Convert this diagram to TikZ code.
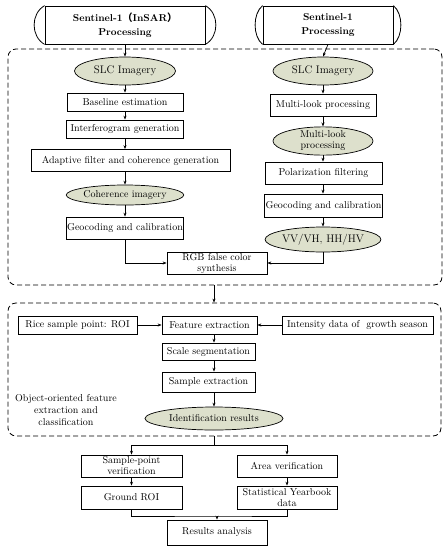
\documentclass[tikz,border=0pt]{standalone}
\usepackage{fontspec}
\newfontfamily\cjk{Noto Sans CJK SC}
\usetikzlibrary{arrows.meta,shapes.geometric,calc}
\definecolor{ellfill}{RGB}{221,224,204}
\begin{document}
\begin{tikzpicture}[x=1pt,y=-1pt,
  every node/.style={font=\fontsize{10}{11}\selectfont},
  box/.style={draw, rectangle, inner sep=1pt, align=center, line width=0.7pt},
  ell/.style={draw, ellipse, fill=ellfill, inner sep=0pt, align=center, line width=0.7pt},
  big/.style={font=\fontsize{11}{12}\selectfont},
  arr/.style={-{Stealth[length=4pt,width=3pt]}, line width=0.7pt},
  ln/.style={line width=0.7pt},
  grp/.style={draw, rectangle, dash pattern=on 5pt off 3pt, rounded corners=8pt, line width=0.8pt},
  hdr/.style={draw, rectangle, align=center, line width=0.8pt, font=\bfseries\fontsize{10}{14}\selectfont},
  lbl/.style={align=center, inner sep=0pt, font=\fontsize{10}{12}\selectfont}
]
\useasboundingbox (0,0) rectangle (448,550);

% group boxes
\node[grp, minimum width=434pt, minimum height=236pt] (box1) at (225,167) {};
\node[grp, minimum width=433pt, minimum height=133pt] (box2) at (224.5,369.5) {};

% headers
\node[hdr, minimum width=160pt, minimum height=38pt] (h1) at (125,25) {Sentinel-1{\cjk （}InSAR{\cjk ）}\\Processing};
\node[hdr, minimum width=130pt, minimum height=38pt] (h2) at (328,25) {Sentinel-1\\Processing};
\draw[line width=0.8pt] (h1.north west) .. controls +(-14,8) and +(-14,-8) .. (h1.south west);
\draw[line width=0.8pt] (h1.north east) .. controls +(14,8) and +(14,-8) .. (h1.south east);
\draw[line width=0.8pt] (h2.north west) .. controls +(-10,8) and +(-10,-8) .. (h2.south west);
\draw[line width=0.8pt] (h2.north east) .. controls +(10,8) and +(10,-8) .. (h2.south east);

% left column
\node[ell, big, minimum width=101pt, minimum height=28pt] (e1) at (125,71) {SLC Imagery};
\node[box, minimum width=116pt, minimum height=18pt] (b1) at (125,102) {Baseline estimation};
\node[box, minimum width=117pt, minimum height=18pt] (b2) at (125,129) {Interferogram generation};
\node[box, minimum width=199pt, minimum height=22pt] (b3) at (130.5,160.5) {Adaptive filter and coherence generation};
\node[ell, minimum width=102pt, minimum height=20pt] (e2) at (125,195) {Coherence imagery};
\node[box, minimum width=116pt, minimum height=22pt] (b4) at (125,228) {Geocoding and calibration};
\node[box, minimum width=100pt, minimum height=22pt, inner sep=0pt] (rgb) at (217,263) {RGB false color\\synthesis};

% right column
\node[ell, big, minimum width=100pt, minimum height=28pt] (e3) at (323,71) {SLC Imagery};
\node[box, minimum width=106pt, minimum height=22pt] (b5) at (323,105) {Multi-look processing};
\node[ell, minimum width=100pt, minimum height=22pt] (e4) at (323,141) {Multi-look\\processing};
\node[box, minimum width=117pt, minimum height=22pt] (b6) at (323.5,173) {Polarization filtering};
\node[box, minimum width=117pt, minimum height=23pt] (b7) at (323.5,205.5) {Geocoding and calibration};
\node[ell, big, minimum width=100pt, minimum height=25pt] (e5) at (323,239.5) {VV/VH, HH/HV};

% arrows top part
\draw[arr] (h1.south) -- (e1.north);
\draw[arr] (e1.south) -- (b1.north);
\draw[arr] (b1.south) -- (b2.north);
\draw[arr] (b2.south) -- (b2.south |- b3.north);
\draw[arr] (b2.south |- b3.south) -- (e2.north);
\draw[arr] (e2.south) -- (b4.north);
\draw[arr] (b4.south) |- (rgb.west);
\draw[arr] (h2.south) -- (e3.north);
\draw[arr] (e3.south) -- (b5.north);
\draw[arr] (b5.south) -- (e4.north);
\draw[arr] (e4.south) -- (e4.south |- b6.north);
\draw[arr] (e4.south |- b6.south) -- (e4.south |- b7.north);
\draw[arr] (e4.south |- b7.south) -- (e5.north);
\draw[arr] (e5.south) |- (rgb.east);

% second group
\node[box, minimum width=119pt, minimum height=18pt] (r1) at (77.5,325) {Rice sample point: ROI};
\node[box, minimum width=95pt, minimum height=18pt] (f1) at (209.5,325) {Feature extraction};
\node[box, minimum width=151pt, minimum height=18pt] (i1) at (357.5,325) {Intensity data of \ growth season};
\node[box, minimum width=93pt, minimum height=17pt] (s1) at (208.5,351.5) {Scale segmentation};
\node[box, minimum width=93pt, minimum height=20pt] (s2) at (208.5,382) {Sample extraction};
\node[ell, minimum width=138pt, minimum height=23pt] (id) at (214,418.5) {Identification results};
\node[lbl] (lab) at (66,410) {Object-oriented feature\\extraction and\\classification};

\draw[arr] (box1.south -| id) -- (box2.north -| id);
\draw[arr] (r1.east) -- (f1.west);
\draw[arr] (i1.west) -- (f1.east);
\draw[arr] (f1.south -| id) -- (s1.north -| id);
\draw[arr] (s1.south -| id) -- (s2.north -| id);
\draw[arr] (s2.south -| id) -- (id.north);

% verification part
\node[box, minimum width=101pt, minimum height=22pt, inner sep=0pt] (v1) at (131.5,466) {Sample-point\\verification};
\node[box, minimum width=100pt, minimum height=22pt] (v2) at (287,466) {Area verification};
\node[box, minimum width=101pt, minimum height=23pt] (g1) at (131.5,497.5) {Ground ROI};
\node[box, minimum width=100pt, minimum height=23pt, inner sep=0pt] (g2) at (287,497.5) {Statistical Yearbook\\data};
\node[box, minimum width=100pt, minimum height=25pt] (res) at (217,532.5) {Results analysis};

\coordinate (sp) at (214,445);
\coordinate (mg) at (217,516);
\draw[ln] (box2.south -| id) -- (sp);
\draw[ln] (v1.north |- sp) -- (v2.north |- sp);
\draw[arr] (v1.north |- sp) -- (v1.north);
\draw[arr] (v2.north |- sp) -- (v2.north);
\draw[arr] (v1.south) -- (g1.north);
\draw[arr] (v2.south) -- (g2.north);
\draw[ln] (g1.south) |- (mg) -| (g2.south);
\draw[arr] (mg) -- (res.north);
\end{tikzpicture}
\end{document}
